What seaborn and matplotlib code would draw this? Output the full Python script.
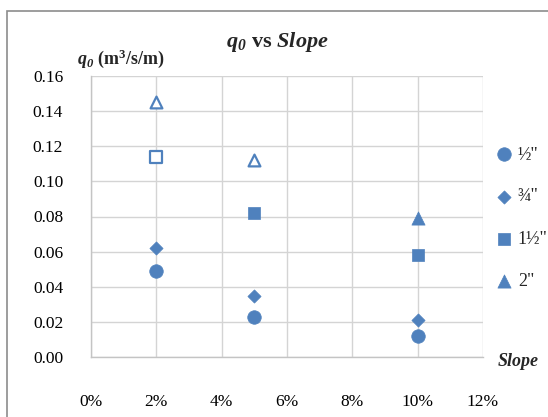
import matplotlib
matplotlib.use("Agg")
import matplotlib.pyplot as plt
import seaborn as sns
import pandas as pd
from matplotlib.patches import Rectangle

# Flow rate per unit width for each stone size at three slopes
slopes = [0.02, 0.05, 0.10]
sizes = ['½"', '¾"', '1½"', '2"']
q_half = [0.049, 0.023, 0.012]
q_three_quarter = [0.062, 0.035, 0.021]
q_one_half = [0.114, 0.082, 0.058]
q_two = [0.145, 0.112, 0.079]
# points drawn as open markers
open_half = [False, False, False]
open_three_quarter = [False, False, False]
open_one_half = [True, False, False]
open_two = [True, True, False]

x_ticks = [0.0, 0.02, 0.04, 0.06, 0.08, 0.10, 0.12]
x_tick_labels = ["0%", "2%", "4%", "6%", "8%", "10%", "12%"]
y_ticks = [0.0, 0.02, 0.04, 0.06, 0.08, 0.10, 0.12, 0.14, 0.16]
y_tick_labels = ["0.00", "0.02", "0.04", "0.06", "0.08", "0.10", "0.12", "0.14", "0.16"]

BLUE = "#4F81BD"
GRID = "#d4d4d4"
marker_map = {sizes[0]: "o", sizes[1]: "D", sizes[2]: "s", sizes[3]: "^"}
size_map = {sizes[0]: 95, sizes[1]: 45, sizes[2]: 85, sizes[3]: 90}

rows = []
for name, vals, opens in zip(sizes,
                             [q_half, q_three_quarter, q_one_half, q_two],
                             [open_half, open_three_quarter, open_one_half, open_two]):
    for s, q, o in zip(slopes, vals, opens):
        rows.append({"slope": s, "q0": q, "size": name, "open": o})
df = pd.DataFrame(rows)
df["size"] = pd.Categorical(df["size"], categories=sizes, ordered=True)

sns.set_style("white")
plt.rcParams["font.family"] = ["Liberation Serif", "DejaVu Serif"]
plt.rcParams["mathtext.fontset"] = "custom"
plt.rcParams["mathtext.rm"] = "Liberation Serif"
plt.rcParams["mathtext.it"] = "Liberation Serif:italic"
plt.rcParams["mathtext.bf"] = "Liberation Serif:bold"
plt.rcParams["mathtext.bfit"] = "Liberation Serif:italic:bold"

fig = plt.figure(figsize=(5.48, 4.17), dpi=100)
ax = fig.add_axes([91 / 548, 1 - 357 / 417, (483 - 91) / 548, (357 - 76) / 417])

filled = df[~df["open"]]
hollow = df[df["open"]]

for name in sizes:
    sub = filled[filled["size"] == name]
    sns.scatterplot(data=sub, x="slope", y="q0", marker=marker_map[name],
                    s=size_map[name], color=BLUE, edgecolor=BLUE, linewidth=0.5,
                    label=name, ax=ax, zorder=3)
for name in sizes:
    sub = hollow[hollow["size"] == name]
    if len(sub):
        sns.scatterplot(data=sub, x="slope", y="q0", marker=marker_map[name],
                        s=size_map[name] * 0.8, facecolor="white", edgecolor=BLUE,
                        linewidth=1.6, legend=False, ax=ax, zorder=3)

ax.set_xlim(0, 0.12)
ax.set_ylim(0, 0.16)
ax.set_xticks(x_ticks)
ax.set_xticklabels(x_tick_labels)
ax.set_yticks(y_ticks)
ax.set_yticklabels(y_tick_labels)
ax.grid(True, color=GRID, linewidth=1.0)
ax.set_axisbelow(True)
for side in ["top", "right"]:
    ax.spines[side].set_visible(False)
for side in ["left", "bottom"]:
    ax.spines[side].set_color("#c4c4c4")
    ax.spines[side].set_linewidth(1.0)
ax.tick_params(axis="both", colors=GRID, length=6.5, width=1.0, labelcolor="black",
               labelsize=12.5)
ax.tick_params(axis="y", pad=13.5)
ax.tick_params(axis="x", pad=20)
ax.set_xlabel("")
ax.set_ylabel("")

handles, labels = ax.get_legend_handles_labels()
ax.legend(handles, labels, loc="upper left", bbox_to_anchor=(488 / 548, 1 - 139 / 417),
          bbox_transform=fig.transFigure, frameon=False, fontsize=13,
          labelspacing=1.4, handletextpad=0.25, borderaxespad=0, handlelength=1.0)

fig.text(277 / 548, 1 - 42 / 417, r"$\mathbfit{q_0}$ vs $\mathbfit{Slope}$",
         ha="center", va="center", fontsize=16, fontweight="bold")
fig.text(77 / 548, 1 - 59 / 417, r"$\mathbfit{q_0}$ (m$^\mathbf{3}$/s/m)",
         ha="left", va="center", fontsize=13, fontweight="bold")
fig.text(498 / 548, 1 - 362 / 417, "Slope", ha="left", va="center",
         fontsize=13, fontweight="bold", style="italic")

# chart area border
fig.patches.append(Rectangle((7 / 548, -0.2), 1.2, 1 - 11 / 417 + 0.2,
                             transform=fig.transFigure, fill=False,
                             edgecolor="#8c8c8c", linewidth=1.2))

fig.savefig("out.png", dpi=100)
